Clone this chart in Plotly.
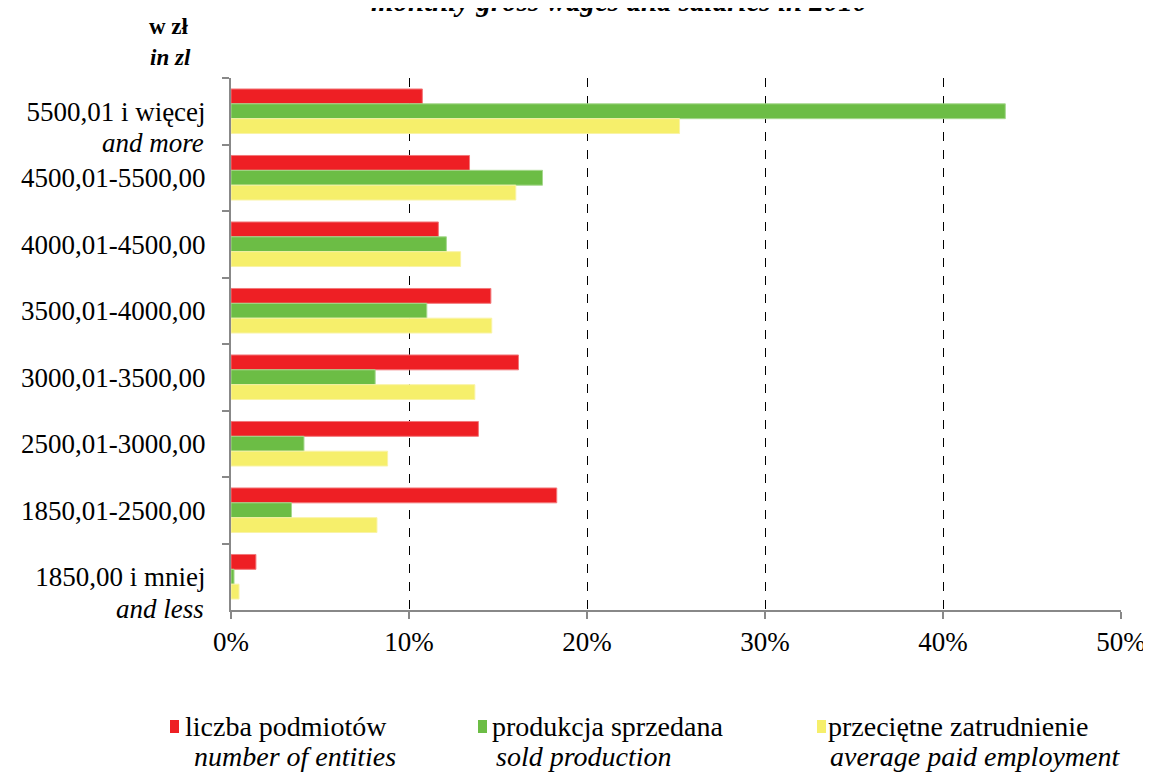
import plotly.graph_objects as go

categories = ["5500,01 i więcej", "4500,01-5500,00", "4000,01-4500,00", "3500,01-4000,00",
              "3000,01-3500,00", "2500,01-3000,00", "1850,01-2500,00", "1850,00 i mniej"]
sublabels = {"5500,01 i więcej": "and more", "1850,00 i mniej": "and less"}

entities = [10.75, 13.4, 11.65, 14.6, 16.15, 13.9, 18.3, 1.4]
production = [43.5, 17.5, 12.1, 11.0, 8.1, 4.1, 3.4, 0.17]
employment = [25.2, 16.0, 12.9, 14.65, 13.7, 8.8, 8.2, 0.45]

series_pl = ["liczba podmiotów", "produkcja sprzedana", "przeciętne zatrudnienie"]
series_en = ["number of entities", "sold production", "average paid employment"]
series_vals = [entities, production, employment]
colors = ["#EE1F24", "#6CBD45", "#F6EF6B"]
edges = ["#F2787A", "#A6D88E", "#F9F3A6"]

x_ticks = [0, 10, 20, 30, 40, 50]
x_ticktext = [f"{v}%" for v in x_ticks]

FONT = "Liberation Serif"
OFF = 8  # page body margin in the browser
W, H = 1151 - OFF, 773 - OFF
L, R, T, B = 231 - OFF, 30, 78 - OFF, 163
PW, PH = W - L - R, H - T - B


def px_x(p):
    return (p - OFF - L) / PW


def px_y(p):
    return (H - B - (p - OFF)) / PH


fig = go.Figure()
for pl, en, vals, col, edge in zip(series_pl, series_en, series_vals, colors, edges):
    fig.add_trace(go.Bar(
        y=categories, x=vals, orientation="h", name=pl,
        marker=dict(color=col, line=dict(color=edge, width=1)),
        showlegend=False,
    ))

for cat, sub in sublabels.items():
    fig.add_annotation(x=0, xref="paper", y=cat, yref="y", text=f"<i>{sub}</i>",
                       showarrow=False, xanchor="right", yanchor="middle",
                       xshift=-25, yshift=-32, font=dict(family=FONT, size=27, color="#000"))

# unit labels and title
fig.add_annotation(x=px_x(191), xref="paper", y=px_y(27), yref="paper", text="<b>w zł</b>",
                   showarrow=False, xanchor="right", yanchor="middle",
                   font=dict(family=FONT, size=23, color="#000"))
fig.add_annotation(x=px_x(193), xref="paper", y=px_y(58), yref="paper", text="<b><i>in zl</i></b>",
                   showarrow=False, xanchor="right", yanchor="middle",
                   font=dict(family=FONT, size=23, color="#000"))
fig.add_annotation(x=px_x(619), xref="paper", y=px_y(1), yref="paper",
                   text="<b><i>monthly gross wages and salaries in 2010</i></b>",
                   showarrow=False, xanchor="center", yanchor="middle",
                   font=dict(family=FONT, size=29, color="#000"))

# legend (manual)
leg_sq = [170, 478, 817]
leg_txt = [183, 490, 826]
leg_sub = [192, 494, 828]
for i in range(3):
    fig.add_shape(type="rect", xref="paper", yref="paper",
                  x0=px_x(leg_sq[i]), x1=px_x(leg_sq[i] + 9),
                  y0=px_y(733), y1=px_y(720),
                  fillcolor=colors[i], line=dict(width=0))
    fig.add_annotation(x=px_x(leg_txt[i]), xref="paper", y=px_y(726), yref="paper",
                       text=series_pl[i], showarrow=False, xanchor="left", yanchor="middle",
                       font=dict(family=FONT, size=28, color="#000"))
    fig.add_annotation(x=px_x(leg_sub[i]), xref="paper", y=px_y(756), yref="paper",
                       text=f"<i>{series_en[i]}</i>", showarrow=False, xanchor="left",
                       yanchor="middle", font=dict(family=FONT, size=28, color="#000"))

fig.update_layout(
    width=W, height=H,
    margin=dict(l=L, r=R, t=T, b=B, autoexpand=False),
    paper_bgcolor="white", plot_bgcolor="white",
    barmode="group", bargap=0.33, bargroupgap=0,
    font=dict(family=FONT, size=27, color="#000"),
    showlegend=False,
    xaxis=dict(range=[0, 50], tickvals=x_ticks, ticktext=x_ticktext,
               showgrid=True, gridcolor="#000", griddash="dash", gridwidth=1,
               showline=True, linecolor="#888", linewidth=2,
               ticks="outside", ticklen=7, tickcolor="#888", tickwidth=2,
               zeroline=False, fixedrange=True, automargin=False),
    yaxis=dict(type="category", categoryorder="array", categoryarray=categories,
               range=[len(categories) - 0.5, -0.5], showline=True, linecolor="#888", linewidth=2,
               ticks="outside", ticklen=7, tickcolor="#888", tickwidth=2,
               tickson="boundaries", ticklabelstandoff=18, showgrid=False,
               fixedrange=True, automargin=False),
)

fig.write_html("out.html")
